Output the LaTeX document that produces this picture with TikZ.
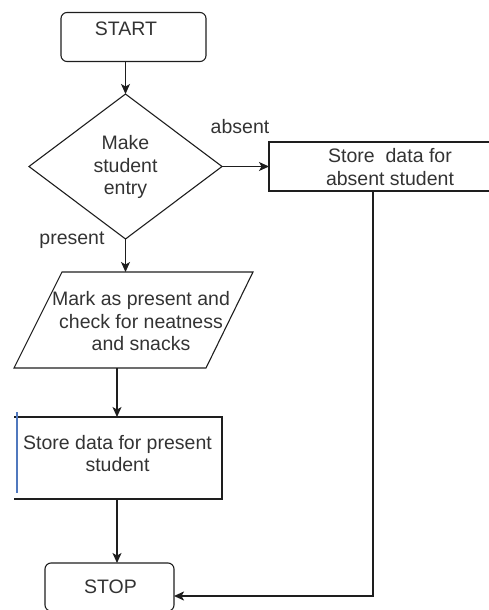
\documentclass[tikz,border=0pt]{standalone}
\usepackage{fontspec}
\setmainfont{Liberation Sans}
\usetikzlibrary{shapes.geometric,arrows.meta}
\definecolor{txtgray}{RGB}{51,51,51}
\definecolor{linec}{RGB}{30,30,30}
\definecolor{blueline}{RGB}{80,120,190}
\tikzset{
  shp/.style={draw=linec, line width=1.1pt, inner sep=0pt, outer sep=0pt},
  termbox/.style={shp, rectangle, rounded corners=6pt},
  procbox/.style={shp, rectangle},
  decbox/.style={shp, diamond},
  txt/.style={font=\fontsize{19.5}{22.5}\selectfont, text=txtgray, align=center, inner sep=0pt},
  arr/.style={draw=linec, line width=1.1pt, -{Stealth[length=10pt,width=9pt,inset=2.5pt]}},
  thickarr/.style={draw=linec, line width=2pt, -{Stealth[length=10pt,width=9pt,inset=2.5pt]}}
}
\begin{document}
\begin{tikzpicture}[x=1pt,y=-1pt]
\useasboundingbox (0,0) rectangle (489,610);
% START
\node[termbox, minimum width=145pt, minimum height=49pt] (start) at (133.5,37) {};
\node[txt] (starttxt) at (126,29) {START};
% decision
\node[decbox, minimum width=193pt, minimum height=145pt] (dec) at (125.5,166.5) {};
\node[txt] (dectxt) at (125.5,167) {Make\\student\\entry};
% absent box
\node[procbox, minimum width=242pt, minimum height=49pt] (absbox) at (390,166.5) {};
\node[txt] (abstxt) at (390,167) {Store~ data for\\absent student};
% labels
\node[txt] (lababs) at (240,127) {absent};
\node[txt] (labpres) at (72,240) {present};
% parallelogram
\coordinate (ptl) at (62,272);
\coordinate (ptr) at (253,272);
\coordinate (pbr) at (206,368);
\coordinate (pbl) at (14,368);
\draw[shp] (ptl) -- (ptr) -- (pbr) -- (pbl) -- cycle;
\coordinate (partop) at (125.5,272);
\coordinate (parbot) at (117,368);
\node[txt] (partxt) at (141,321.5) {Mark as present and\\check for neatness\\and snacks};
% present box (left edge not drawn)
\coordinate (pbtl) at (14,417);
\coordinate (pbtr) at (222,417);
\coordinate (pbbr) at (222,499);
\coordinate (pbbl) at (14,499);
\draw[shp] (pbtl) -- (pbtr) -- (pbbr) -- (pbbl);
\coordinate (presN) at (117,417);
\coordinate (presS) at (117,499);
\coordinate (blueT) at (17,412);
\coordinate (blueB) at (17,493);
\draw[blueline, line width=1.1pt] (blueT) -- (blueB);
\node[txt] (prestxt) at (117.5,453.5) {Store data for present\\student};
% STOP
\node[termbox, minimum width=129pt, minimum height=48pt] (stop) at (109.5,587) {};
\node[txt] (stoptxt) at (110.5,587) {STOP};
% connectors
\draw[arr] (start.south -| dec.north) -- (dec.north);
\draw[arr] (dec.east) -- (dec.east -| absbox.west);
\draw[arr] (dec.south) -- (partop);
\draw[arr] (parbot) -- (presN);
\draw[arr] (presS) -- (presS |- stop.north);
\draw[thickarr] ([xshift=-17pt]absbox.south) |- ([yshift=-9pt]stop.east);
\end{tikzpicture}
\end{document}
